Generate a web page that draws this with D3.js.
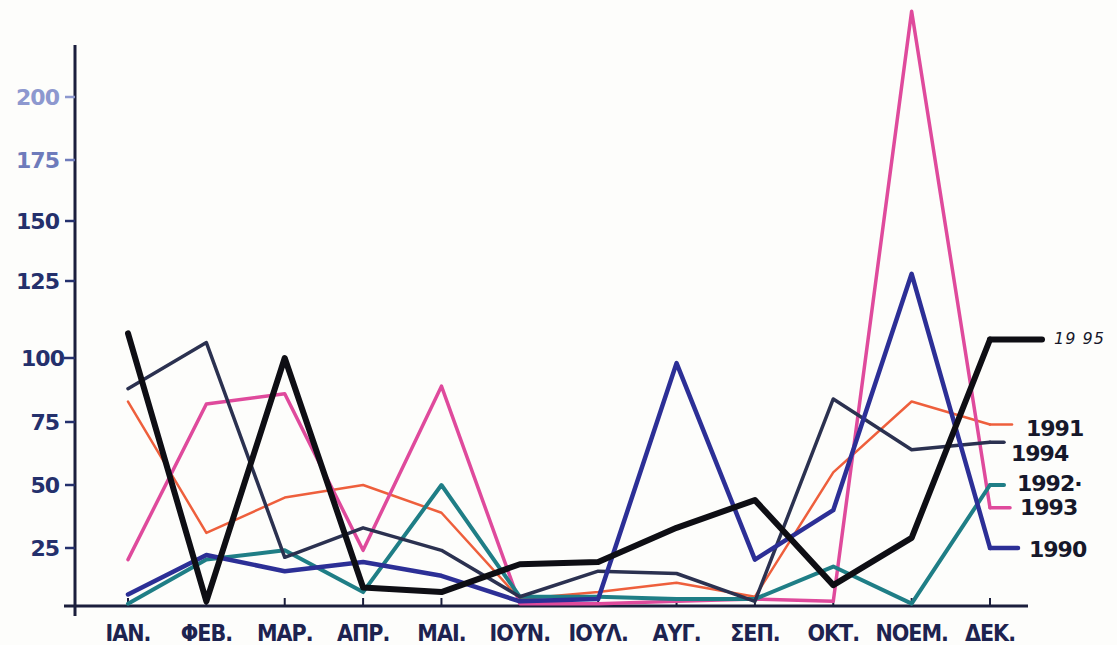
<!DOCTYPE html>
<html>
<head>
<meta charset="utf-8">
<script src="https://cdn.jsdelivr.net/npm/d3@7"></script>
<style>
  html, body { margin: 0; padding: 0; background: #fdfdfb; }
  svg { display: block; }
</style>
</head>
<body>
<div id="chart"></div>
<script>
// Monthly values per year
const months = ['ΙΑΝ.', 'ΦΕΒ.', 'ΜΑΡ.', 'ΑΠΡ.', 'ΜΑΙ.', 'ΙΟΥΝ.', 'ΙΟΥΛ.', 'ΑΥΓ.', 'ΣΕΠ.', 'ΟΚΤ.', 'ΝΟΕΜ.', 'ΔΕΚ.'];
const yTicks = [25, 50, 75, 100, 125, 150, 175, 200];

const v1990 = [5, 22, 15, 19, 13, 2, 3, 98, 20, 40, 128, 25];
const v1991 = [83, 31, 45, 50, 39, 3, 6, 10, 4, 55, 83, 74];
const v1992 = [1, 20, 24, 6, 50, 4, 4, 3, 3, 17, 1, 50];
const v1993 = [20, 82, 86, 24, 89, 1, 1, 2, 3, 2, 234, 41];
const v1994 = [88, 105, 21, 33, 24, 4, 15, 14, 2, 84, 64, 67];
const v1995 = [108, 2, 100, 8, 6, 18, 19, 33, 44, 9, 29, 106];

const series = [
    { name: '1991', values: v1991, color: '#ee5f3c', width: 2.5, lead: 22, lx: 1026, ly: 436, size: 22 },
    { name: '1993', values: v1993, color: '#df4a9c', width: 3.5, lead: 20, lx: 1020, ly: 515, size: 22 },
    { name: '1992·', values: v1992, color: '#1f7e86', width: 4, lead: 14, lx: 1017, ly: 491, size: 22 },
    { name: '1994', values: v1994, color: '#2b3150', width: 3.5, lead: 14, lx: 1011, ly: 461, size: 22 },
    { name: '1990', values: v1990, color: '#2c2f96', width: 4.5, lead: 28, lx: 1029, ly: 557, size: 22 },
    { name: '19 95', values: v1995, color: '#0e0e14', width: 6, lead: 52, lx: 1054, ly: 344, size: 16, hand: true }
];

const width = 1117, height = 645;

const svg = d3.select('#chart').append('svg')
    .attr('width', width)
    .attr('height', height);

svg.append('rect')
    .attr('width', width)
    .attr('height', height)
    .attr('fill', '#fdfdfb');

// x: months, y: the scanned axis is not quite even, so a polylinear scale
const x = d3.scalePoint()
    .domain(months)
    .range([128, 990]);

const y = d3.scaleLinear()
    .domain([0, 25, 50, 75, 100, 125, 150, 175, 200])
    .range([606, 548, 485, 422, 358, 281, 221, 160, 97]);

const axisColor = '#1b1e3c';

// y axis line
svg.append('line')
    .attr('x1', 75).attr('x2', 75)
    .attr('y1', 45).attr('y2', 616)
    .attr('stroke', axisColor)
    .attr('stroke-width', 3);

// x axis line
svg.append('line')
    .attr('x1', 64).attr('x2', 1028)
    .attr('y1', y(0)).attr('y2', y(0))
    .attr('stroke', axisColor)
    .attr('stroke-width', 3);

// y ticks + labels
const tickColor = d => d >= 200 ? '#8d98cf' : d >= 175 ? '#6e7bbb' : '#24306c';

svg.selectAll('.ytick')
    .data(yTicks)
    .enter()
    .append('line')
    .attr('class', 'ytick')
    .attr('x1', d => d === 100 ? 64 : 65).attr('x2', 75)
    .attr('y1', d => y(d)).attr('y2', d => y(d))
    .attr('stroke', d => tickColor(d))
    .attr('stroke-width', 2.5);

svg.selectAll('.ylabel')
    .data(yTicks)
    .enter()
    .append('text')
    .attr('class', 'ylabel')
    .attr('x', d => d === 100 ? 64 : 59)
    .attr('y', d => y(d) + 8)
    .attr('text-anchor', 'end')
    .attr('fill', d => tickColor(d))
    .attr('font-family', 'DejaVu Sans, sans-serif')
    .attr('font-weight', 'bold')
    .attr('font-size', '22px')
    .attr('letter-spacing', '-1px')
    .text(d => d);

// x ticks (small marks above the baseline)
svg.selectAll('.xtick')
    .data(months)
    .enter()
    .append('line')
    .attr('class', 'xtick')
    .attr('x1', d => x(d)).attr('x2', d => x(d))
    .attr('y1', y(0) - 8).attr('y2', y(0))
    .attr('stroke', axisColor)
    .attr('stroke-width', 2);

svg.selectAll('.xlabel')
    .data(months)
    .enter()
    .append('text')
    .attr('class', 'xlabel')
    .attr('x', d => x(d))
    .attr('y', 641)
    .attr('text-anchor', 'middle')
    .attr('fill', '#1d2350')
    .attr('font-family', 'DejaVu Sans Condensed, DejaVu Sans, sans-serif')
    .attr('font-weight', 'bold')
    .attr('font-size', '23px')
    .attr('letter-spacing', '-1px')
    .text(d => d);

const line = d3.line()
    .x((d, i) => x(months[i]))
    .y(d => y(d));

series.forEach(s => {
    svg.append('path')
        .datum(s.values)
        .attr('d', line)
        .attr('fill', 'none')
        .attr('stroke', s.color)
        .attr('stroke-width', s.width)
        .attr('stroke-linejoin', 'round')
        .attr('stroke-linecap', 'round');

    // leader from the December point to the year label
    const last = s.values[s.values.length - 1];
    svg.append('line')
        .attr('x1', x(months[months.length - 1]))
        .attr('x2', x(months[months.length - 1]) + s.lead)
        .attr('y1', y(last)).attr('y2', y(last))
        .attr('stroke', s.color)
        .attr('stroke-width', s.width)
        .attr('stroke-linecap', 'round');

    svg.append('text')
        .attr('x', s.lx)
        .attr('y', s.ly)
        .attr('fill', '#16182a')
        .attr('font-family', 'DejaVu Sans, sans-serif')
        .attr('font-weight', s.hand ? 'normal' : 'bold')
        .attr('font-style', s.hand ? 'italic' : 'normal')
        .attr('font-size', s.size + 'px')
        .attr('letter-spacing', s.hand ? '1px' : '-1px')
        .text(s.name);
});
</script>
</body>
</html>
